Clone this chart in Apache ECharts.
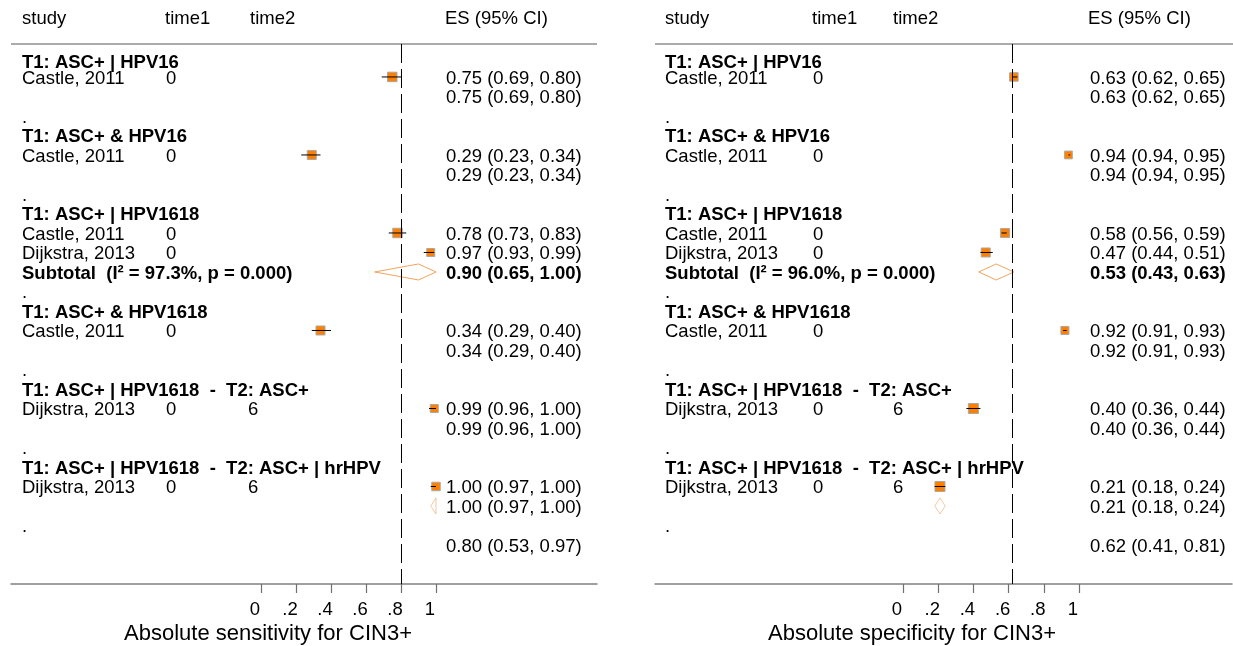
<!DOCTYPE html>
<html>
<head>
<meta charset="utf-8">
<script src="https://cdn.jsdelivr.net/npm/echarts@6/dist/echarts.min.js"></script>
<style>
html, body { margin: 0; background: #fff; }
#forest { width: 1233px; height: 646px; }
</style>
</head>
<body>
<div id="forest"></div>
<script>
// forest plot: absolute sensitivity / specificity for CIN3+

var rowKind = ['head', 'study', 'sub', 'blank',
               'head', 'study', 'sub', 'blank',
               'head', 'study', 'study', 'subtotal', 'blank',
               'head', 'study', 'sub', 'blank',
               'head', 'study', 'sub', 'blank',
               'head', 'study', 'pooled', 'blank',
               'overall'];
var rowLabel = ['T1: ASC+ | HPV16', 'Castle, 2011', '', '.',
                'T1: ASC+ & HPV16', 'Castle, 2011', '', '.',
                'T1: ASC+ | HPV1618', 'Castle, 2011', 'Dijkstra, 2013', 'Subtotal', '.',
                'T1: ASC+ & HPV1618', 'Castle, 2011', '', '.',
                'T1: ASC+ | HPV1618  -  T2: ASC+', 'Dijkstra, 2013', '', '.',
                'T1: ASC+ | HPV1618  -  T2: ASC+ | hrHPV', 'Dijkstra, 2013', '', '.',
                ''];
var time1 = [null, 0, null, null, null, 0, null, null, null, 0, 0, null, null,
             null, 0, null, null, null, 0, null, null, null, 0, null, null, null];
var time2 = [null, null, null, null, null, null, null, null, null, null, null, null, null,
             null, null, null, null, null, 6, null, null, null, 6, null, null, null];

var sensES = [null, 0.75, 0.75, null, null, 0.29, 0.29, null, null, 0.78, 0.97, 0.90, null,
              null, 0.34, 0.34, null, null, 0.99, 0.99, null, null, 1.00, 1.00, null, 0.80];
var sensLo = [null, 0.69, 0.69, null, null, 0.23, 0.23, null, null, 0.73, 0.93, 0.65, null,
              null, 0.29, 0.29, null, null, 0.96, 0.96, null, null, 0.97, 0.97, null, 0.53];
var sensHi = [null, 0.80, 0.80, null, null, 0.34, 0.34, null, null, 0.83, 0.99, 1.00, null,
              null, 0.40, 0.40, null, null, 1.00, 1.00, null, null, 1.00, 1.00, null, 0.97];
var sensWeight = [null, 90, null, null, null, 81, null, null, null, 90, 64, null, null,
                  null, 81, null, null, null, 64, null, null, null, 72, null, null, null];
var sensI2 = '97.3%';

var specES = [null, 0.63, 0.63, null, null, 0.94, 0.94, null, null, 0.58, 0.47, 0.53, null,
              null, 0.92, 0.92, null, null, 0.40, 0.40, null, null, 0.21, 0.21, null, 0.62];
var specLo = [null, 0.62, 0.62, null, null, 0.94, 0.94, null, null, 0.56, 0.44, 0.43, null,
              null, 0.91, 0.91, null, null, 0.36, 0.36, null, null, 0.18, 0.18, null, 0.41];
var specHi = [null, 0.65, 0.65, null, null, 0.95, 0.95, null, null, 0.59, 0.51, 0.63, null,
              null, 0.93, 0.93, null, null, 0.44, 0.44, null, null, 0.24, 0.24, null, 0.81];
var specWeight = [null, 72, null, null, null, 60, null, null, null, 81, 81, null, null,
                  null, 64, null, null, null, 100, null, null, null, 100, null, null, null];
var specI2 = '96.0%';

var tickValues = [0, 0.2, 0.4, 0.6, 0.8, 1];

var FONT = '"Liberation Sans", Arial, sans-serif';

function fmt(v) { return v.toFixed(2); }

function forestRender(es, lo, hi, weight, i2, cols) {
    return function (params, api) {
        var row = api.value(0);
        var cs = params.coordSys;
        var y = api.coord([0, row])[1];
        var ty = y + 1.5;
        var kind = rowKind[row];
        var kids = [];
        var bold = kind === 'head' || kind === 'subtotal';
        var label = kind === 'subtotal' ? 'Subtotal  (I\u00b2 = ' + i2 + ', p = 0.000)' : rowLabel[row];
        var ly = (row === 0) ? ty + 4 : ty;

        if (label) {
            kids.push({ type: 'text', x: cs.x + cols.study, y: ly,
                style: { text: label, font: (bold ? 'bold ' : '') + '18.5px ' + FONT,
                         fill: '#000', textAlign: 'left', textVerticalAlign: 'middle' } });
        }
        if (time1[row] != null) {
            kids.push({ type: 'text', x: cs.x + cols.t1, y: ty,
                style: { text: String(time1[row]), font: '18.5px ' + FONT, fill: '#000',
                         textAlign: 'left', textVerticalAlign: 'middle' } });
        }
        if (time2[row] != null) {
            kids.push({ type: 'text', x: cs.x + cols.t2, y: ty,
                style: { text: String(time2[row]), font: '18.5px ' + FONT, fill: '#000',
                         textAlign: 'left', textVerticalAlign: 'middle' } });
        }
        if (es[row] != null) {
            kids.push({ type: 'text', x: cs.x + cols.es, y: ty,
                style: { text: fmt(es[row]) + ' (' + fmt(lo[row]) + ', ' + fmt(hi[row]) + ')',
                         font: (kind === 'subtotal' ? 'bold ' : '') + '18.5px ' + FONT,
                         fill: '#000', textAlign: 'left', textVerticalAlign: 'middle' } });
        }

        var xe, xl, xh;
        if (es[row] != null) {
            xe = api.coord([es[row], row])[0];
            xl = api.coord([lo[row], row])[0];
            xh = api.coord([hi[row], row])[0];
        }
        if (kind === 'study') {
            var s = Math.sqrt(weight[row]);
            kids.push({ type: 'rect', shape: { x: xe - s / 2, y: y - s / 2, width: s, height: s },
                style: { fill: '#FF8000', stroke: '#A8A8A8', lineWidth: 1 } });
            kids.push({ type: 'line', shape: { x1: xl, y1: y, x2: xh, y2: y },
                style: { stroke: '#000', lineWidth: 1 } });
        }
        if (kind === 'subtotal' || kind === 'pooled') {
            kids.push({ type: 'polygon',
                shape: { points: [[xl, y], [xe, y - 8], [xh, y], [xe, y + 8]] },
                style: { fill: 'none', stroke: '#F0A45E', lineWidth: 1,
                         opacity: kind === 'pooled' ? 0.6 : 1 } });
        }
        return { type: 'group', children: kids };
    };
}

function rowData(es) {
    return rowKind.map(function (k, i) { return [i, es[i] == null ? 0 : es[i]]; });
}

function xAxisFor(idx, zeroPx, unitPx, leftPx, rightPx) {
    return {
        gridIndex: idx,
        type: 'value',
        position: 'bottom',
        min: (leftPx - zeroPx) / unitPx,
        max: (rightPx - zeroPx) / unitPx,
        splitLine: { show: false },
        axisLine: { show: true, onZero: false, lineStyle: { color: '#808080', width: 1.5 } },
        axisTick: { show: true, customValues: tickValues, length: 9,
                    lineStyle: { color: '#707070', width: 1.2 } },
        axisLabel: {
            customValues: tickValues,
            margin: 16,
            padding: [0, 12, 0, 0],
            fontFamily: FONT,
            fontSize: 18.5,
            color: '#000',
            formatter: function (v) {
                if (v === 0) return '0';
                if (v === 1) return '1';
                return String(v).replace(/^0/, '');
            }
        }
    };
}

function yAxisFor(idx) {
    return { gridIndex: idx, type: 'value', inverse: true, min: -0.69, max: 27, show: false };
}

var headerY = 19;
function header(x, text) {
    return { type: 'text', x: x, y: headerY,
        style: { text: text, font: '18.5px ' + FONT, fill: '#000',
                 textAlign: 'left', textVerticalAlign: 'middle' } };
}

var option = {
    animation: false,
    backgroundColor: '#fff',
    grid: [
        { left: 11, top: 44, width: 586, height: 540 },
        { left: 655, top: 44, width: 577, height: 540 }
    ],
    xAxis: [
        xAxisFor(0, 261, 175, 11, 597),
        xAxisFor(1, 903, 176, 655, 1232)
    ],
    yAxis: [yAxisFor(0), yAxisFor(1)],
    graphic: [
        header(22, 'study'), header(165, 'time1'), header(250, 'time2'), header(445, 'ES (95% CI)'),
        header(665, 'study'), header(812, 'time1'), header(893, 'time2'), header(1088, 'ES (95% CI)'),
        { type: 'line', shape: { x1: 11, y1: 44, x2: 597, y2: 44 },
          style: { stroke: '#ABABAB', lineWidth: 2 } },
        { type: 'line', shape: { x1: 655, y1: 44, x2: 1233, y2: 44 },
          style: { stroke: '#ABABAB', lineWidth: 2 } },
        { type: 'text', x: 268, y: 634,
          style: { text: 'Absolute sensitivity for CIN3+', font: '22px ' + FONT, fill: '#000',
                   textAlign: 'center', textVerticalAlign: 'middle' } },
        { type: 'text', x: 912, y: 634,
          style: { text: 'Absolute specificity for CIN3+', font: '22px ' + FONT, fill: '#000',
                   textAlign: 'center', textVerticalAlign: 'middle' } }
    ],
    series: [
        {
            type: 'custom',
            xAxisIndex: 0, yAxisIndex: 0,
            clip: false,
            encode: { x: 1, y: 0 },
            data: rowData(sensES),
            renderItem: forestRender(sensES, sensLo, sensHi, sensWeight, sensI2,
                                     { study: 11, t1: 155, t2: 237, es: 435 }),
            markLine: {
                silent: true, symbol: 'none', label: { show: false },
                lineStyle: { color: '#000', width: 1, type: [19, 6] },
                data: [{ xAxis: sensES[25] }]
            }
        },
        {
            type: 'custom',
            xAxisIndex: 1, yAxisIndex: 1,
            clip: false,
            encode: { x: 1, y: 0 },
            data: rowData(specES),
            renderItem: forestRender(specES, specLo, specHi, specWeight, specI2,
                                     { study: 10, t1: 158, t2: 238, es: 435 }),
            markLine: {
                silent: true, symbol: 'none', label: { show: false },
                lineStyle: { color: '#000', width: 1, type: [19, 6] },
                data: [{ xAxis: specES[25] }]
            }
        }
    ]
};

var myChart = echarts.init(document.getElementById('forest'));
myChart.setOption(option);
</script>
</body>
</html>
